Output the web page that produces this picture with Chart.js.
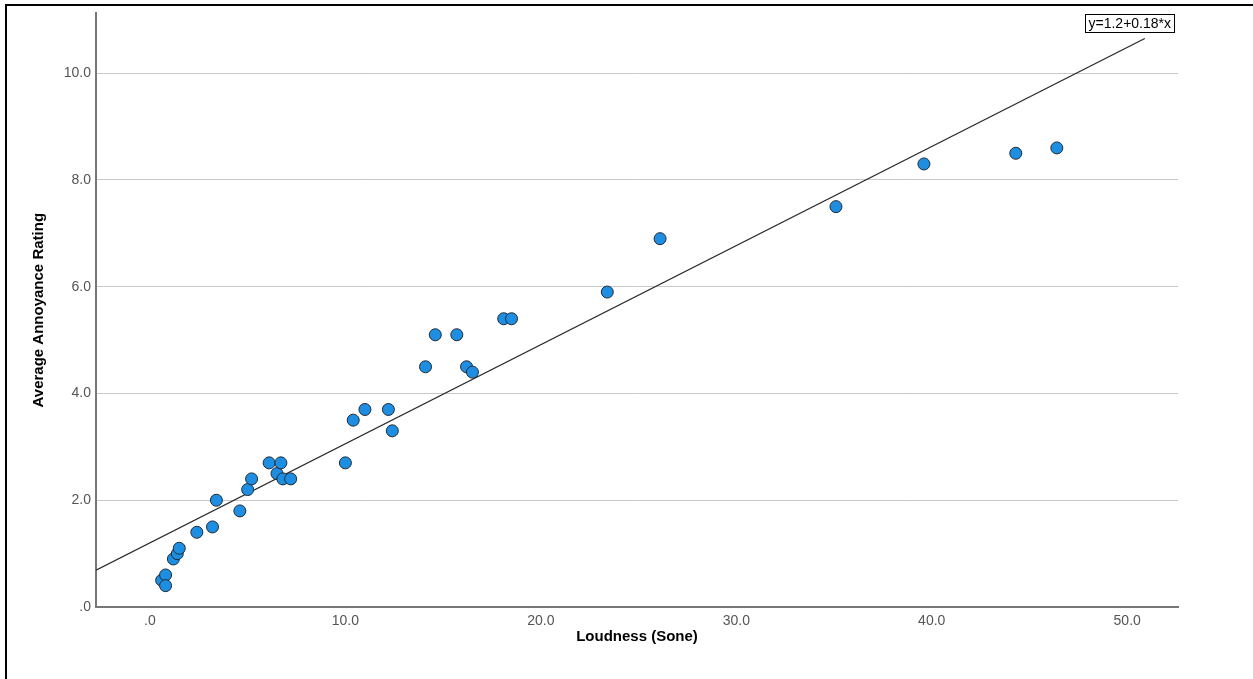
<!DOCTYPE html>
<html>
<head>
<meta charset="utf-8">
<script src="https://cdn.jsdelivr.net/npm/chart.js@4.4.1/dist/chart.umd.min.js"></script>
<style>
    html, body { margin: 0; padding: 0; background: #fff; }
    canvas { display: block; }
</style>
</head>
<body>
<canvas id="grafico" width="1253" height="679"></canvas>
<script>
// ── Dados ──
const loudness = [
    0.6, 0.8, 0.8, 1.2, 1.4, 1.5, 2.4, 3.2, 3.4, 4.6, 5.0, 5.2,
    6.1, 6.5, 6.7, 6.8, 7.2, 10.0, 10.4, 11.0, 12.2, 12.4,
    14.1, 14.6, 15.7, 16.2, 16.5, 18.1, 18.5, 23.4, 26.1,
    35.1, 39.6, 44.3, 46.4
];
const annoyance = [
    0.5, 0.6, 0.4, 0.9, 1.0, 1.1, 1.4, 1.5, 2.0, 1.8, 2.2, 2.4,
    2.7, 2.5, 2.7, 2.4, 2.4, 2.7, 3.5, 3.7, 3.7, 3.3,
    4.5, 5.1, 5.1, 4.5, 4.4, 5.4, 5.4, 5.9, 6.9,
    7.5, 8.3, 8.5, 8.6
];

// reta de ajuste (extremos)
const fitX = [-2.76, 50.9];
const fitY = [0.69, 10.65];
const fitLabel = 'y=1.2+0.18*x';

const xTicks      = [0, 10, 20, 30, 40, 50];
const xTickLabels = ['.0', '10.0', '20.0', '30.0', '40.0', '50.0'];
const yTicks      = [0, 2, 4, 6, 8, 10];
const yTickLabels = ['.0', '2.0', '4.0', '6.0', '8.0', '10.0'];

const FONTE = '"Liberation Sans", Arial, sans-serif';

// fundo branco + moldura preta (topo e esquerda)
const moldura = {
    id: 'moldura',
    beforeDraw(chart) {
        const c = chart.ctx;
        c.save();
        c.fillStyle = '#fff';
        c.fillRect(0, 0, chart.width, chart.height);
        c.restore();
    },
    afterDraw(chart) {
        const c = chart.ctx;
        c.save();
        c.fillStyle = '#000';
        c.fillRect(5, 4, chart.width - 5, 2);
        c.fillRect(5, 4, 2, chart.height - 4);
        c.restore();
    }
};

// caixa com a equação
const rotuloReta = {
    id: 'rotuloReta',
    afterDatasetsDraw(chart) {
        const c = chart.ctx;
        const a = chart.chartArea;
        c.save();
        c.font = '14px ' + FONTE;
        const w = c.measureText(fitLabel).width + 6;
        const h = 18;
        const x = a.right - 4 - w;
        const y = a.top + 1;
        c.fillStyle = '#fff';
        c.fillRect(x, y, w, h);
        c.strokeStyle = '#000';
        c.lineWidth = 1;
        c.strokeRect(Math.round(x) + 0.5, Math.round(y) + 0.5, Math.round(w), h);
        c.fillStyle = '#000';
        c.textBaseline = 'middle';
        c.fillText(fitLabel, x + 3, y + h / 2 + 1);
        c.restore();
    }
};

new Chart(document.getElementById('grafico'), {
    type: 'scatter',
    data: {
        datasets: [
            {
                label: 'Annoyance',
                data: loudness.map((x, i) => ({ x, y: annoyance[i] })),
                backgroundColor: '#1e8ee3',
                borderColor: '#1f2b36',
                borderWidth: 1,
                pointRadius: 6,
                order: 1,
            },
            {
                type: 'line',
                label: 'Fit',
                data: fitX.map((x, i) => ({ x, y: fitY[i] })),
                borderColor: '#2a2a2a',
                borderWidth: 1.3,
                pointRadius: 0,
                fill: false,
                tension: 0,
                order: 2,
            }
        ]
    },
    options: {
        responsive: false,
        animation: false,
        layout: { padding: { left: 0, top: 12, right: 75, bottom: 0 } },
        plugins: {
            legend: { display: false },
            tooltip: { enabled: false }
        },
        scales: {
            x: {
                type: 'linear',
                min: -2.76,
                max: 52.6,
                afterFit(s) { s.height = 72; },
                afterBuildTicks(s) { s.ticks = xTicks.map(v => ({ value: v })); },
                grid: { display: false, drawTicks: false },
                border: { display: true, color: '#777', width: 2 },
                ticks: {
                    autoSkip: false,
                    maxRotation: 0,
                    padding: 6,
                    color: '#555',
                    font: { family: FONTE, size: 14 },
                    callback: (v, i) => xTickLabels[i]
                },
                title: {
                    display: true,
                    text: 'Loudness (Sone)',
                    color: '#000',
                    font: { family: FONTE, size: 15, weight: 'bold' },
                    padding: { top: 0, bottom: 33 }
                }
            },
            y: {
                type: 'linear',
                min: 0,
                max: 11.12,
                afterFit(s) { s.width = 96; },
                afterBuildTicks(s) { s.ticks = yTicks.map(v => ({ value: v })); },
                grid: {
                    drawTicks: false,
                    color: ctx => ctx.tick && ctx.tick.value === 0 ? 'rgba(0,0,0,0)' : '#c8c8c8',
                    lineWidth: 1
                },
                border: { display: true, color: '#777', width: 2 },
                ticks: {
                    autoSkip: false,
                    padding: 5,
                    color: '#555',
                    font: { family: FONTE, size: 14 },
                    callback: (v, i) => yTickLabels[i]
                },
                title: {
                    display: true,
                    text: 'Average Annoyance Rating',
                    color: '#000',
                    font: { family: FONTE, size: 15, weight: 'bold' },
                    padding: { top: 30, bottom: 0 }
                }
            }
        }
    },
    plugins: [moldura, rotuloReta]
});
</script>
</body>
</html>
